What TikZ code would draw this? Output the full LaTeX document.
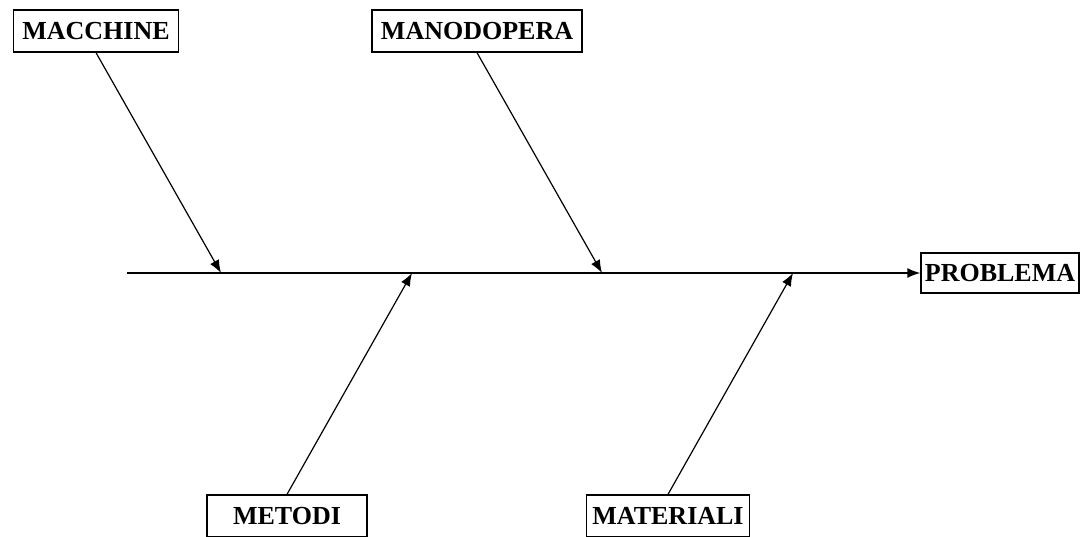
\documentclass[tikz,border=0pt]{standalone}
\usepackage{fontspec}
\setmainfont{Liberation Serif}
\usetikzlibrary{arrows.meta}
\tikzset{
  cause/.style={rectangle, draw, line width=1.3pt, minimum height=42, inner sep=0pt, font=\fontsize{26}{31}\selectfont\bfseries},
  bone/.style={-{Latex[length=13,width=10]}, line width=1.2pt}
}
\begin{document}
\begin{tikzpicture}[x=1pt,y=-1pt]
            \useasboundingbox (0,0) rectangle (1081,536);
            \node[cause, minimum width=165] (macchine) at (96,31) {MACCHINE};
            \node[cause, minimum width=210] (manodopera) at (477,31) {MANODOPERA};
            \node[cause, minimum width=160] (metodi) at (287,516) {METODI};
            \node[cause, minimum width=163] (materiali) at (668,516) {MATERIALI};
            \node[cause, minimum width=158, minimum height=40] (problema) at (1000,273) {PROBLEMA};
            % spine
            \coordinate (coda) at (127,273);
            \coordinate (p1) at (221,273);
            \coordinate (p2) at (412,273);
            \coordinate (p3) at (602,273);
            \coordinate (p4) at (793,273);
            \draw[bone, line width=1.6pt] (coda) -- (problema.west);
            \draw[bone] (macchine.south) -- (p1);
            \draw[bone] (manodopera.south) -- (p3);
            \draw[bone] (metodi.north) -- (p2);
            \draw[bone] (materiali.north) -- (p4);
        \end{tikzpicture}
\end{document}
